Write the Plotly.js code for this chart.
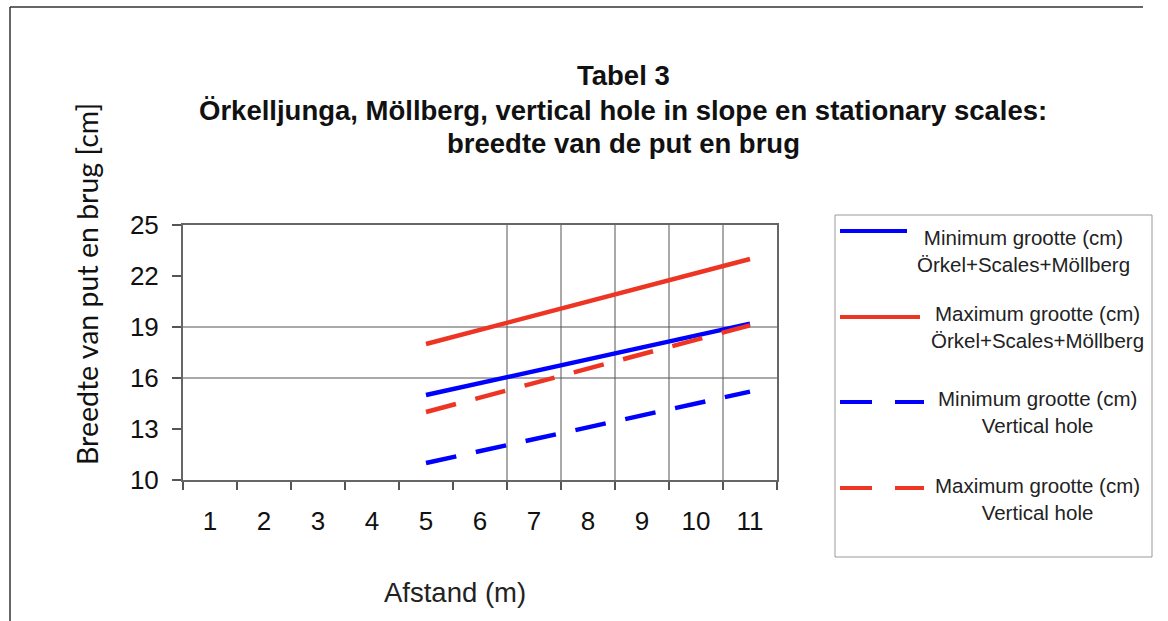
<!DOCTYPE html>
<html>
<head>
<meta charset="utf-8">
<script src="https://cdn.plot.ly/plotly-3.0.1.min.js"></script>
<style>html,body{margin:0;padding:0;background:#fff;}#chart{width:1168px;height:621px;}</style>
</head>
<body>
<div id="chart"></div>
<script>
// ---- data ----
const categories = ['1','2','3','4','5','6','7','8','9','10','11'];
const afstand = ['5','6','7','8','9','10','11'];
const minCombined = [15.0, 15.7, 16.4, 17.1, 17.8, 18.5, 19.2];
const maxCombined = [18.0, 18.83, 19.67, 20.5, 21.33, 22.17, 23.0];
const minVertical = [11.0, 11.7, 12.4, 13.1, 13.8, 14.5, 15.2];
const maxVertical = [14.0, 14.85, 15.7, 16.55, 17.4, 18.25, 19.1];
const seriesNames = [
  'Minimum grootte (cm)<br>Örkel+Scales+Möllberg',
  'Maximum grootte (cm)<br>Örkel+Scales+Möllberg',
  'Minimum grootte (cm)<br>Vertical hole',
  'Maximum grootte (cm)<br>Vertical hole'
];
const yTicks = [10, 13, 16, 19, 22, 25];
const yGridValues = [16, 19];
const xGridBoundaries = [5.5, 6.5, 7.5, 8.5, 9.5];
const titleLines = ['Tabel 3', 'Örkelljunga, Möllberg, vertical hole in slope en stationary scales:', 'breedte van de put en brug'];
const xTitle = 'Afstand (m)';
const yTitle = 'Breedte van put en brug [cm]';

// ---- styling ----
const BLUE = '#0000ff', RED = '#ee3524';
const W = 1168, H = 621;
const L = 183, R = 777, T = 225, B = 480;
const fx = p => (p - L) / (R - L);
const fy = p => (B - p) / (B - T);
const DASH = '31px,20px';

const seriesStyle = [
  {color: BLUE, dash: 'solid'},
  {color: RED, dash: 'solid'},
  {color: BLUE, dash: DASH},
  {color: RED, dash: DASH}
];
const seriesValues = [minCombined, maxCombined, minVertical, maxVertical];

const traces = seriesValues.map((v, i) => ({
  type: 'scatter', mode: 'lines', x: afstand, y: v,
  name: seriesNames[i], showlegend: false,
  line: {color: seriesStyle[i].color, width: 4.5, dash: seriesStyle[i].dash}
}));

const shapes = [];
yGridValues.forEach(v => shapes.push({type: 'line', xref: 'paper', yref: 'y', x0: 0, x1: 1, y0: v, y1: v, line: {color: '#555', width: 1}, layer: 'below'}));
xGridBoundaries.forEach(v => shapes.push({type: 'line', xref: 'x', yref: 'paper', x0: v, x1: v, y0: 0, y1: 1, line: {color: '#555', width: 1}, layer: 'below'}));

// page frame lines
shapes.push({type: 'line', xref: 'paper', yref: 'paper', x0: fx(10), x1: fx(1143), y0: fy(7), y1: fy(7), line: {color: '#666', width: 2}});
shapes.push({type: 'line', xref: 'paper', yref: 'paper', x0: fx(10), x1: fx(10), y0: fy(7), y1: fy(625), line: {color: '#333', width: 1.5}});

// legend box
shapes.push({type: 'rect', xref: 'paper', yref: 'paper', x0: fx(835), x1: fx(1152), y0: fy(215), y1: fy(557), line: {color: '#999', width: 1}, fillcolor: 'rgba(0,0,0,0)'});
const legendRows = [
  {ly: 231, lx1: 907, tx: 1023, ty: 251},
  {ly: 317, lx1: 920, tx: 1037, ty: 327},
  {ly: 402, lx1: 924, tx: 1037, ty: 412},
  {ly: 488, lx1: 924, tx: 1037, ty: 499}
];
const annotations = [];
legendRows.forEach((r, i) => {
  shapes.push({type: 'line', xref: 'paper', yref: 'paper', x0: fx(840), x1: fx(r.lx1), y0: fy(r.ly), y1: fy(r.ly),
    line: {color: seriesStyle[i].color, width: 4, dash: seriesStyle[i].dash === 'solid' ? 'solid' : '32px,23px'}});
  annotations.push({xref: 'paper', yref: 'paper', x: fx(r.tx), y: fy(r.ty), xanchor: 'center', yanchor: 'middle',
    text: seriesNames[i], showarrow: false, align: 'center',
    font: {family: 'Liberation Sans, Arial, sans-serif', size: 20.5, color: '#222'}});
});

// titles
const titleY = [75, 110, 143];
titleLines.forEach((t, i) => annotations.push({xref: 'paper', yref: 'paper', x: fx(623), y: fy(titleY[i]), xanchor: 'center', yanchor: 'middle',
  text: '<b>' + t + '</b>', showarrow: false, font: {family: 'Liberation Sans, Arial, sans-serif', size: 27.5, color: '#111'}}));
annotations.push({xref: 'paper', yref: 'paper', x: fx(455), y: fy(592), xanchor: 'center', yanchor: 'middle',
  text: xTitle, showarrow: false, font: {family: 'Liberation Sans, Arial, sans-serif', size: 27.5, color: '#222'}});
annotations.push({xref: 'paper', yref: 'paper', x: fx(87), y: fy(284), xanchor: 'center', yanchor: 'middle', textangle: -90,
  text: yTitle, showarrow: false, font: {family: 'Lato, Open Sans, sans-serif', size: 28.5, color: '#111'}});

const layout = {
  width: W, height: H,
  margin: {l: L, r: W - R, t: T, b: H - B, pad: 0},
  paper_bgcolor: '#fff', plot_bgcolor: '#fff',
  showlegend: false,
  xaxis: {
    type: 'category', categoryorder: 'array', categoryarray: categories,
    tickvals: categories, range: [-0.5, 10.5], tickson: 'boundaries',
    ticks: 'outside', ticklen: 8, tickwidth: 1.5, tickcolor: '#555',
    showgrid: false, zeroline: false, showline: true, linecolor: '#666', linewidth: 2, mirror: true,
    ticklabelstandoff: 17,
    tickfont: {family: 'Liberation Sans, Arial, sans-serif', size: 26, color: '#111'}
  },
  yaxis: {
    range: [10, 25], tickvals: yTicks, ticks: 'outside', ticklen: 9, tickwidth: 1.5, tickcolor: '#555',
    showgrid: false, zeroline: false, showline: true, linecolor: '#666', linewidth: 2, mirror: true,
    ticklabelstandoff: 8,
    tickfont: {family: 'Liberation Sans, Arial, sans-serif', size: 26, color: '#111'}
  },
  shapes: shapes,
  annotations: annotations
};

Plotly.newPlot('chart', traces, layout, {staticPlot: true, displayModeBar: false});
</script>
</body>
</html>
